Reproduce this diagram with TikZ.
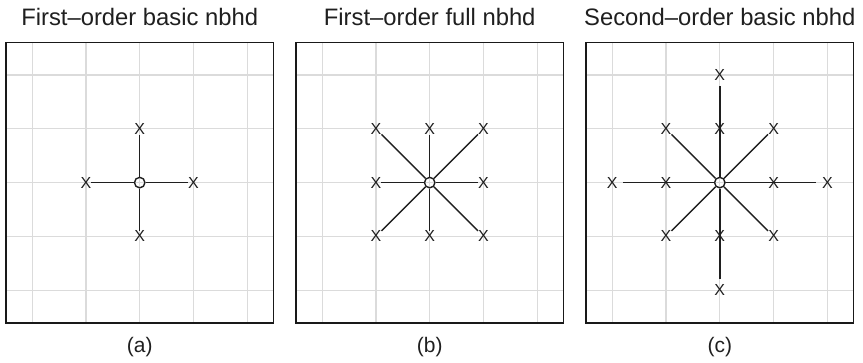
\documentclass[tikz,border=0pt]{standalone}
\usepackage{fontspec}
\setmainfont{Liberation Sans}
\begin{document}
\begin{tikzpicture}[x=1pt,y=1pt,
  gridline/.style={draw=black!14, line width=1.2pt},
  frame/.style={draw=black!90, line width=1.5pt},
  link/.style={draw=black!88, line width=1.4pt},
  site/.style={inner sep=0pt, text=black!88, font=\fontsize{16}{16}\selectfont},
  centre/.style={circle, draw=black!88, line width=1.4pt, minimum size=10.5pt, inner sep=0pt},
  title/.style={anchor=base, text=black!88, font=\fontsize{23.8}{28}\selectfont},
  caption/.style={anchor=base, text=black!88, font=\fontsize{21}{24}\selectfont}]
\useasboundingbox (0,0) rectangle (863,-363);

% lattice background and frame of every panel
\foreach \cx in {139.7,429.7,719.8} {
  \begin{scope}[shift={(\cx pt,-182.6pt)}]
    \foreach \k in {-2,...,2} {
      \draw[gridline] (\k*53.8, 140.2) -- (\k*53.8, -140.2);
      \draw[gridline] (-133.8, \k*53.8) -- (133.8, \k*53.8);
    }
    \draw[frame] (-133.8,140.2) rectangle (133.8,-140.2);
  \end{scope}
}

% (a) first-order basic neighbourhood
\begin{scope}[shift={(139.7pt,-182.6pt)}, x=53.8pt, y=53.8pt]
  \node[title] (ta) at (0pt,156.6pt) {First–order basic nbhd};
  \node[caption] (la) at (0pt,-169.8pt) {(a)};
  \node[centre] (a0) at (0,0) {};
  \foreach \n/\i/\j in {E/1/0, W/-1/0, N/0/1, S/0/-1} {
    \node[site] (a\n) at (\i,\j) {X};
    \draw[link] (a0) -- (a\n);
  }
\end{scope}

% (b) first-order full neighbourhood
\begin{scope}[shift={(429.7pt,-182.6pt)}, x=53.8pt, y=53.8pt]
  \node[title] (tb) at (0pt,156.6pt) {First–order full nbhd};
  \node[caption] (lb) at (0pt,-169.8pt) {(b)};
  \node[centre] (b0) at (0,0) {};
  \foreach \n/\i/\j in {E/1/0, W/-1/0, N/0/1, S/0/-1, NE/1/1, NW/-1/1, SE/1/-1, SW/-1/-1} {
    \node[site] (b\n) at (\i,\j) {X};
    \draw[link] (b0) -- (b\n);
  }
\end{scope}

% (c) second-order basic neighbourhood
\begin{scope}[shift={(719.8pt,-182.6pt)}, x=53.8pt, y=53.8pt]
  \node[title] (tc) at (0pt,156.6pt) {Second–order basic nbhd};
  \node[caption] (lc) at (0pt,-169.8pt) {(c)};
  \node[centre] (c0) at (0,0) {};
  \foreach \n/\i/\j in {E/1/0, W/-1/0, N/0/1, S/0/-1} {
    \node[site] (c\n) at (\i,\j) {X};
  }
  \foreach \n/\i/\j in {NE/1/1, NW/-1/1, SE/1/-1, SW/-1/-1} {
    \node[site] (c\n) at (\i,\j) {X};
    \draw[link] (c0) -- (c\n);
  }
  \foreach \n/\i/\j in {EE/2/0, WW/-2/0, NN/0/2, SS/0/-2} {
    \node[site] (c\n) at (\i,\j) {X};
    \draw[link, shorten >=5.5pt] (c0) -- (c\n);
  }
\end{scope}
\end{tikzpicture}
\end{document}
